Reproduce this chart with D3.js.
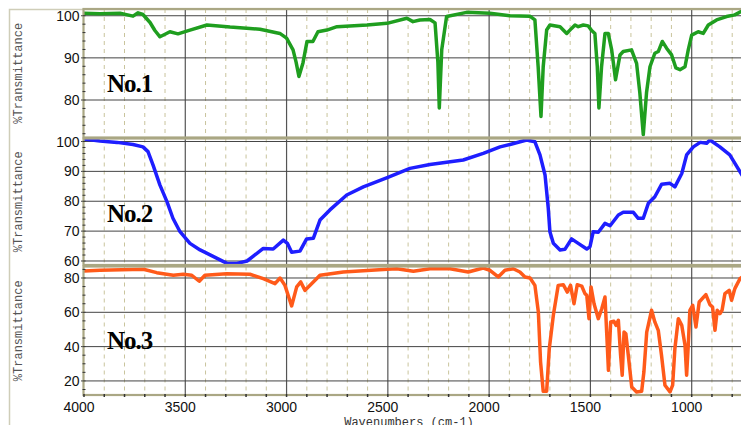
<!DOCTYPE html>
<html><head><meta charset="utf-8">
<script src="https://cdn.jsdelivr.net/npm/d3@7"></script>
<style>body{margin:0;background:#fff;overflow:hidden}</style>
</head><body><svg id="c" width="741" height="425"></svg>
<script>
const xTickValues = [4000, 3500, 3000, 2500, 2000, 1500, 1000];
const panelNames = ["No.1", "No.2", "No.3"];
const panel1Ticks = [80, 90, 100];
const panel2Ticks = [60, 70, 80, 90, 100];
const panel3Ticks = [20, 40, 60, 80];

const no1Wavenumber = [4000,3921,3822,3758,3733,3709,3674,3650,3625,3600,3576,3536,3477,3393,3279,3181,3131,3033,3000,2968,2953,2939,2919,2899,2870,2845,2801,2751,2603,2504,2406,2376,2342,2292,2267,2253,2246,2234,2210,2111,1996,1897,1799,1774,1758,1744,1733,1716,1700,1650,1617,1593,1576,1560,1535,1511,1494,1478,1466,1458,1445,1428,1412,1395,1376,1354,1338,1297,1272,1256,1239,1223,1206,1182,1165,1145,1124,1099,1078,1058,1033,1017,1000,968,943,918,877,828,787,757,700];
const no1Transmittance = [100.6,100.5,100.6,99.9,100.7,100.3,98.4,96.5,95.0,95.6,96.2,95.7,96.6,97.8,97.3,97.0,96.8,95.8,94.7,91.9,89.0,85.6,88.8,93.9,93.9,96.2,96.6,97.4,97.8,98.2,99.4,98.6,99.0,99.1,98.3,89.0,78.1,91.9,99.8,100.8,100.6,100.0,99.9,99.0,87.9,76.1,87.9,96.6,97.8,97.4,95.8,97.0,97.8,97.4,97.8,97.6,96.5,95.8,87.9,78.1,87.9,95.8,95.8,91.9,84.8,90.7,91.5,91.9,88.7,81.7,71.8,81.7,87.9,91.1,91.5,93.9,92.3,90.7,87.6,87.2,87.9,91.9,95.4,96.2,95.8,97.8,99.0,99.8,100.2,101.0,101.5];

const no2Wavenumber = [4000,3921,3837,3758,3709,3684,3659,3625,3590,3561,3526,3477,3427,3343,3294,3245,3195,3115,3066,3016,2996,2975,2934,2901,2868,2835,2786,2703,2621,2503,2391,2292,2128,2029,1946,1897,1815,1774,1749,1724,1708,1700,1683,1650,1626,1593,1560,1518,1502,1486,1461,1428,1403,1362,1338,1288,1264,1239,1214,1182,1148,1107,1083,1049,1025,992,958,926,910,861,812,762,700];
const no2Transmittance = [100.8,100.2,99.7,99.0,98.2,96.6,92.1,85.4,79.8,74.3,69.8,65.9,63.7,60.9,59.2,59.2,60.0,64.2,64.0,67.0,65.9,62.9,63.3,67.4,67.6,73.7,77.1,82.1,84.8,87.9,91.0,92.3,93.8,96.0,98.2,99.0,100.5,99.9,95.5,88.8,77.6,69.8,65.9,63.7,63.9,67.4,65.9,64.0,64.8,69.8,69.6,72.6,71.8,75.4,76.3,76.3,74.3,74.3,79.3,81.5,85.7,86.0,84.8,89.3,95.5,98.2,99.7,99.4,100.5,98.2,95.5,89.9,83.0];

const no3Wavenumber = [4000,3921,3707,3641,3559,3510,3468,3431,3403,3296,3181,3115,3057,3032,3008,2975,2950,2930,2909,2884,2835,2720,2503,2456,2374,2292,2193,2103,2029,1996,1955,1922,1881,1848,1823,1798,1774,1757,1746,1733,1716,1703,1683,1659,1634,1614,1598,1581,1565,1543,1527,1518,1507,1497,1482,1461,1444,1428,1419,1411,1400,1384,1374,1362,1351,1343,1334,1325,1313,1296,1272,1247,1236,1222,1198,1182,1165,1149,1132,1107,1094,1083,1066,1049,1033,1025,1017,1009,995,979,963,930,910,897,885,874,861,850,836,815,803,787,762,720];
const no3Transmittance = [84.1,84.5,85.1,83.1,81.6,82.2,81.6,78.1,81.6,82.5,82.2,79.6,76.7,80.0,75.7,63.7,74.8,77.7,72.8,75.7,81.6,83.5,85.1,85.4,83.9,85.4,85.4,83.5,85.8,84.5,80.6,84.5,85.4,83.5,80.6,80.0,75.7,60.2,31.0,14.0,14.0,38.8,58.3,75.7,76.1,71.8,75.7,65.0,76.1,75.3,70.9,69.9,56.3,74.8,65.0,56.3,62.1,68.9,46.6,26.2,54.4,54.8,52.4,55.3,35.0,23.3,48.5,47.5,35.0,16.5,13.6,14.0,25.2,48.5,61.2,54.4,49.5,35.0,17.5,13.6,17.5,38.8,56.3,52.4,40.8,23.3,40.8,61.2,64.1,51.4,66.0,70.3,64.5,63.1,49.5,61.2,59.2,61.2,70.9,72.8,67.0,73.8,79.6,83.0];

const svg = d3.select("#c");
const W = 741, H = 425;
const plotLeft = 84;
const tan = "#aaa784";

const x = d3.scaleLinear().domain([4000, 400]).range([plotLeft, plotLeft + 3600 / 4.9367]);

const panels = [
  {name: panelNames[0], wn: no1Wavenumber, t: no1Transmittance, ticks: panel1Ticks, minorStep: 2,
   top: 9, bottom: 137.5, domain: [71.1, 101.6], color: "#1f9e1f", labelY: 92},
  {name: panelNames[1], wn: no2Wavenumber, t: no2Transmittance, ticks: panel2Ticks, minorStep: 2,
   top: 138.5, bottom: 265, domain: [58.66, 101.0], color: "#1e1eff", labelY: 222},
  {name: panelNames[2], wn: no3Wavenumber, t: no3Transmittance, ticks: panel3Ticks, minorStep: 5,
   top: 266.5, bottom: 395, domain: [11.8, 86.7], color: "#ff5a1a", labelY: 349}
];

svg.append("rect").attr("x", 0).attr("y", 0).attr("width", W).attr("height", H).attr("fill", "#fff");
svg.append("path").attr("d", `M9.5,${H} L9.5,9.5 L${W},9.5`).attr("fill", "none")
  .attr("stroke", "#cfcdb8").attr("stroke-width", 1.5);

const minorX = d3.range(4000, 399, -100).filter(v => v % 500 !== 0);
const majorX = d3.range(3500, 399, -500);

panels.forEach((p, i) => {
  const y = d3.scaleLinear().domain(p.domain).range([p.bottom, p.top]);
  const g = svg.append("g");
  const clipId = "clip" + i;
  svg.append("defs").append("clipPath").attr("id", clipId)
    .append("rect").attr("x", plotLeft).attr("y", p.top).attr("width", W - plotLeft).attr("height", p.bottom - p.top);

  g.selectAll(".mx").data(minorX).join("line")
    .attr("x1", d => x(d)).attr("x2", d => x(d)).attr("y1", p.top).attr("y2", p.bottom)
    .attr("stroke", "#c9c49c").attr("stroke-width", 1).attr("stroke-dasharray", "4,4");
  g.selectAll(".Mx").data(majorX).join("line")
    .attr("x1", d => x(d)).attr("x2", d => x(d)).attr("y1", p.top).attr("y2", p.bottom)
    .attr("stroke", "#555").attr("stroke-width", 1.2);
  g.selectAll(".hy").data(p.ticks).join("line")
    .attr("x1", plotLeft - 3).attr("x2", W).attr("y1", d => y(d)).attr("y2", d => y(d))
    .attr("stroke", "#444").attr("stroke-width", 1);

  const pts = p.wn.map((w, k) => [w, p.t[k]]);
  g.append("path").datum(pts)
    .attr("clip-path", `url(#${clipId})`)
    .attr("d", d3.line().x(d => x(d[0])).y(d => y(d[1])))
    .attr("fill", "none").attr("stroke", p.color).attr("stroke-width", 3.5)
    .attr("stroke-linejoin", "round").attr("stroke-linecap", "round");

  g.append("rect").attr("x", plotLeft - 0.5).attr("y", p.top).attr("width", W).attr("height", p.bottom - p.top)
    .attr("fill", "none").attr("stroke", tan).attr("stroke-width", 2.2);

  const [d0, d1] = p.domain;
  const minorY = d3.range(Math.ceil(d0 / p.minorStep) * p.minorStep, d1, p.minorStep);
  g.selectAll(".my").data(minorY).join("line")
    .attr("x1", plotLeft - 1.5).attr("x2", plotLeft + 1.5).attr("y1", d => y(d)).attr("y2", d => y(d))
    .attr("stroke", "#333").attr("stroke-width", 1);

  g.selectAll(".yl").data(p.ticks).join("text")
    .attr("x", 79.5).attr("y", d => y(d)).attr("dy", "0.36em")
    .attr("text-anchor", "end").attr("font-family", "Liberation Sans, Arial, sans-serif")
    .attr("font-size", 14).attr("fill", "#111").text(d => d);

  const cy = (p.top + p.bottom) / 2;
  g.append("text").attr("transform", `translate(22,${cy}) rotate(-90)`)
    .attr("text-anchor", "middle").attr("font-family", "Liberation Mono, monospace")
    .attr("font-size", 12).attr("fill", "#555").text("%Transmittance");

  g.append("text").attr("x", 107).attr("y", p.labelY)
    .attr("font-family", "Liberation Serif, Times New Roman, serif").attr("font-weight", "bold")
    .attr("font-size", 25).attr("letter-spacing", -1).attr("fill", "#000").text(p.name);
});

const bottom = panels[2].bottom;
svg.selectAll(".xt").data(d3.range(4000, 399, -100)).join("line")
  .attr("x1", d => x(d)).attr("x2", d => x(d)).attr("y1", bottom - 1).attr("y2", bottom + 2)
  .attr("stroke", "#333").attr("stroke-width", 1.5);
svg.selectAll(".xl").data(xTickValues).join("text")
  .attr("x", d => x(d) - 5).attr("y", bottom + 12).attr("dy", "0.36em")
  .attr("text-anchor", "middle").attr("font-family", "Liberation Sans, Arial, sans-serif")
  .attr("font-size", 14).attr("fill", "#111").text(d => d);
svg.append("text").attr("x", 409).attr("y", 426)
  .attr("text-anchor", "middle").attr("font-family", "Liberation Mono, monospace")
  .attr("font-size", 12).attr("fill", "#333").text("Wavenumbers (cm-1)");
</script>
</body></html>
